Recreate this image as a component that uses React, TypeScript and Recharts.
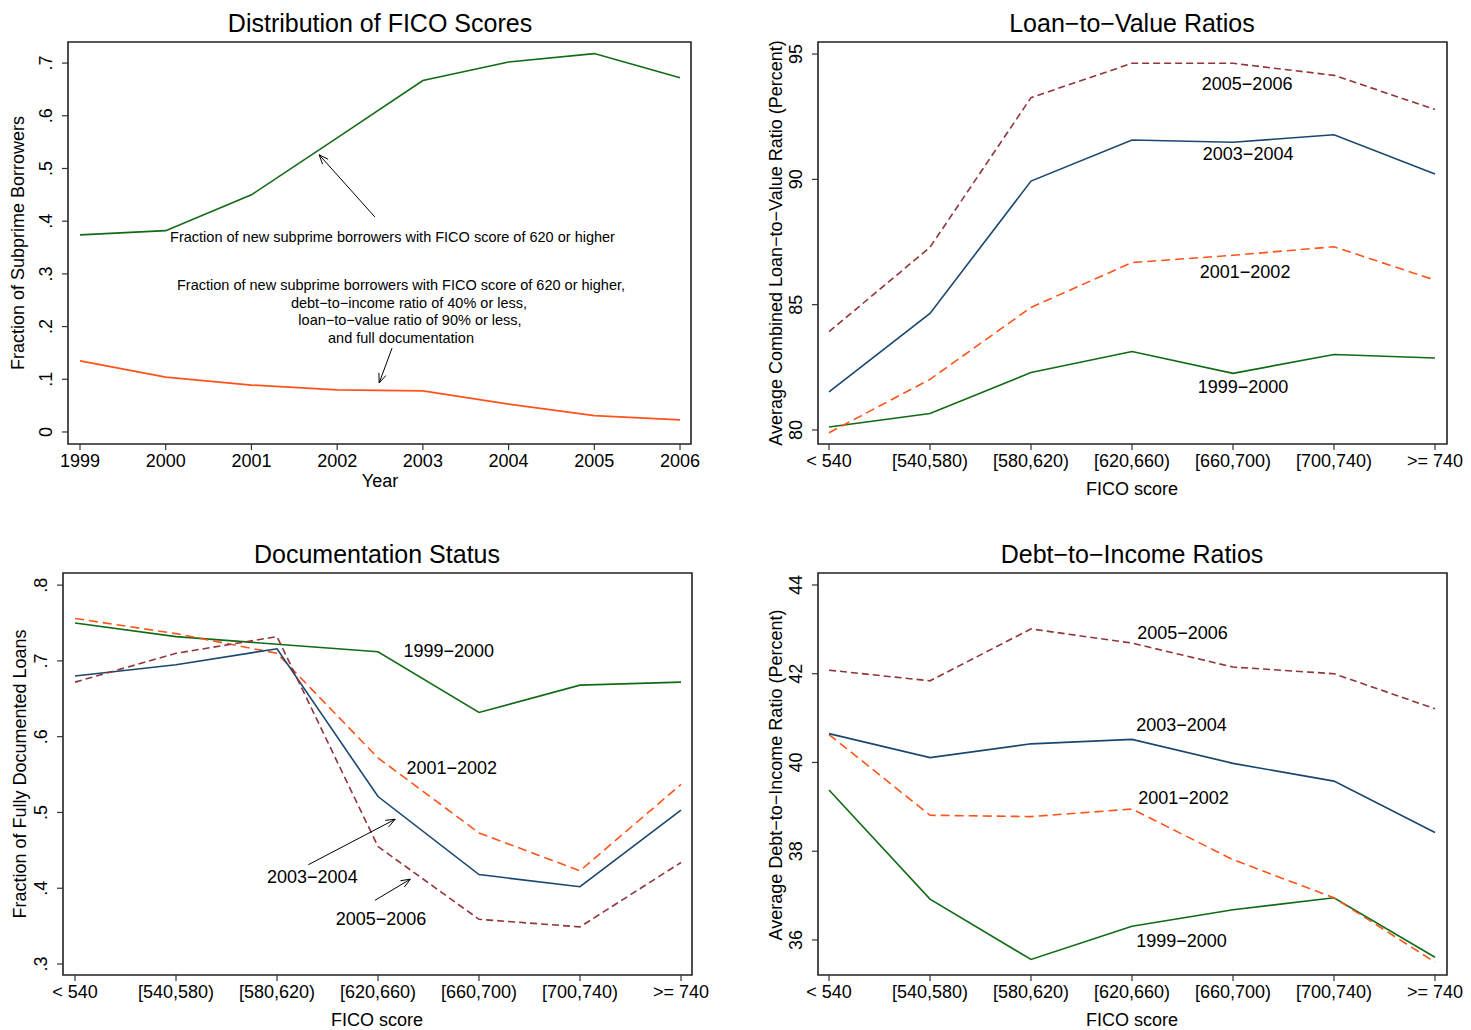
import React from "react";
import {
  LineChart,
  Line,
  XAxis,
  YAxis,
  ReferenceArea,
  ReferenceDot,
  ReferenceLine,
} from "recharts";

const FONT = '"Liberation Sans", Arial, Helvetica, sans-serif';

// panel 1: distribution of FICO scores by year
const years = [1999, 2000, 2001, 2002, 2003, 2004, 2005, 2006];
const share620 = [0.374, 0.382, 0.45, 0.558, 0.667, 0.702, 0.718, 0.672];
const shareStrict = [0.135, 0.104, 0.089, 0.08, 0.078, 0.053, 0.031, 0.023];

// panels 2-4: by FICO bucket
const ficoBuckets = ["< 540", "[540,580)", "[580,620)", "[620,660)", "[660,700)", "[700,740)", ">= 740"];

const ltv1999 = [80.12, 80.66, 82.29, 83.13, 82.26, 83.01, 82.87];
const ltv2001 = [79.89, 82.02, 84.89, 86.68, 86.97, 87.31, 85.98];
const ltv2003 = [81.52, 84.65, 89.93, 91.57, 91.48, 91.78, 90.21];
const ltv2005 = [83.92, 87.29, 93.26, 94.63, 94.63, 94.15, 92.79];

const doc1999 = [0.75, 0.732, 0.722, 0.712, 0.632, 0.668, 0.672];
const doc2001 = [0.756, 0.736, 0.71, 0.572, 0.473, 0.423, 0.537];
const doc2003 = [0.68, 0.695, 0.716, 0.521, 0.418, 0.402, 0.503];
const doc2005 = [0.672, 0.71, 0.732, 0.455, 0.359, 0.349, 0.434];

const dti1999 = [39.38, 36.92, 35.56, 36.31, 36.68, 36.95, 35.61];
const dti2001 = [40.63, 38.81, 38.78, 38.95, 37.81, 36.95, 35.5];
const dti2003 = [40.65, 40.11, 40.42, 40.52, 39.98, 39.58, 38.42];
const dti2005 = [42.08, 41.84, 43.01, 42.69, 42.15, 42.0, 41.21];

const fracTicks = [0, 0.1, 0.2, 0.3, 0.4, 0.5, 0.6, 0.7];
const ltvTicks = [80, 85, 90, 95];
const docTicks = [0.3, 0.4, 0.5, 0.6, 0.7, 0.8];
const dtiTicks = [36, 38, 40, 42, 44];
const bucketTicks = ficoBuckets.map((_, i) => i);

const GREEN = "#0f6b14";
const NAVY = "#1a476f";
const MAROON = "#903539";
const ORANGE = "#ff5319";

const X_H = 40;
const Y_W = 50;

const fmtFrac = (v: number) => (v === 0 ? "0" : v.toFixed(1).replace(/^0/, ""));
const fmtBucket = (v: number) => ficoBuckets[v] ?? "";
const fmtInt = (v: number) => String(v);

const yearRows = years.map((y, i) => ({ year: y, hi: share620[i], strict: shareStrict[i] }));
const ltvRows = ficoBuckets.map((b, i) => ({ idx: i, a: ltv1999[i], b: ltv2001[i], c: ltv2003[i], d: ltv2005[i] }));
const docRows = ficoBuckets.map((b, i) => ({ idx: i, a: doc1999[i], b: doc2001[i], c: doc2003[i], d: doc2005[i] }));
const dtiRows = ficoBuckets.map((b, i) => ({ idx: i, a: dti1999[i], b: dti2001[i], c: dti2003[i], d: dti2005[i] }));

const Arrow = (p: any) => {
  const { x1, y1, x2, y2 } = p;
  const ang = Math.atan2(y2 - y1, x2 - x1);
  const L = 10;
  const s = 0.38;
  const ax = x2 - L * Math.cos(ang - s);
  const ay = y2 - L * Math.sin(ang - s);
  const bx = x2 - L * Math.cos(ang + s);
  const by = y2 - L * Math.sin(ang + s);
  return (
    <g>
      <line x1={x1} y1={y1} x2={x2} y2={y2} stroke="#000" strokeWidth={1} />
      <polyline points={`${ax},${ay} ${x2},${y2} ${bx},${by}`} fill="none" stroke="#000" strokeWidth={1} />
    </g>
  );
};

const seriesLabel = (text: string, size = 18) => (p: any) => (
  <text
    x={p.cx}
    y={p.cy}
    textAnchor="middle"
    dominantBaseline="central"
    fontFamily={FONT}
    fontSize={size}
    fill="#000"
  >
    {text}
  </text>
);

const noteBlock = (lines: { t: string; dx: number; dy: number }[]) => (p: any) => (
  <text textAnchor="middle" dominantBaseline="central" fontFamily={FONT} fontSize={14.5} fill="#000">
    {lines.map((l, i) => (
      <tspan key={i} x={p.cx + l.dx} y={p.cy + l.dy}>
        {l.t}
      </tspan>
    ))}
  </text>
);

function Panel(props: any) {
  const { left, top, width, height, plot, title, titleAt, xTitle, xTitleAt, yTitle, yTitleAt, data, xKey, xDomain, xTicks, xFmt, yDomain, yTicks, yFmt, children } = props;
  const margin = { top: plot.t, right: width - plot.r, left: plot.l - Y_W, bottom: height - plot.b - X_H };
  const text = { position: "absolute" as const, fontFamily: FONT, color: "#000", whiteSpace: "nowrap" as const, lineHeight: 1 };
  return (
    <div style={{ position: "absolute", left, top, width, height }}>
      <LineChart width={width} height={height} data={data} margin={margin}>
        <XAxis
          dataKey={xKey}
          type="number"
          domain={xDomain}
          ticks={xTicks}
          allowDataOverflow
          interval={0}
          height={X_H}
          axisLine={false}
          tickLine={{ stroke: "#333", strokeWidth: 1.2 }}
          tickSize={6}
          tickMargin={2}
          tick={(p: any) => (
            <text x={p.x} y={plot.b + 17} textAnchor="middle" dominantBaseline="central" fontFamily={FONT} fontSize={18} fill="#000">
              {xFmt(p.payload.value)}
            </text>
          )}
        />
        <YAxis
          type="number"
          domain={yDomain}
          ticks={yTicks}
          allowDataOverflow
          interval={0}
          width={Y_W}
          axisLine={false}
          tickLine={{ stroke: "#333", strokeWidth: 1.2 }}
          tickSize={6}
          tickMargin={2}
          tick={(p: any) => {
            const cx = plot.l - 22;
            return (
              <text
                x={cx}
                y={p.y}
                transform={`rotate(-90 ${cx} ${p.y})`}
                textAnchor="middle"
                dominantBaseline="central"
                fontFamily={FONT}
                fontSize={18}
                fill="#000"
              >
                {yFmt(p.payload.value)}
              </text>
            );
          }}
        />
        <ReferenceArea
          x1={xDomain[0]}
          x2={xDomain[1]}
          y1={yDomain[0]}
          y2={yDomain[1]}
          fill="none"
          fillOpacity={0}
          stroke="#222"
          strokeWidth={1.6}
          ifOverflow="visible"
        />
        {children}
      </LineChart>
      <div style={{ ...text, left: titleAt[0], top: titleAt[1], fontSize: 25, transform: "translate(-50%, -50%)" }}>{title}</div>
      <div style={{ ...text, left: xTitleAt[0], top: xTitleAt[1], fontSize: 18, transform: "translate(-50%, -50%)" }}>{xTitle}</div>
      <div style={{ ...text, left: yTitleAt[0], top: yTitleAt[1], fontSize: 18, transform: "translate(-50%, -50%) rotate(-90deg)" }}>{yTitle}</div>
    </div>
  );
}

const lineCommon = { type: "linear" as const, dot: false, activeDot: false, isAnimationActive: false, strokeWidth: 1.6 };

export default function App() {
  return (
    <div style={{ position: "absolute", left: 0, top: 0, width: 1471, height: 1030, background: "#fff" }}>
      <Panel
        left={0}
        top={0}
        width={735}
        height={530}
        plot={{ l: 68, r: 691, t: 42, b: 444 }}
        title="Distribution of FICO Scores"
        titleAt={[380, 23]}
        xTitle="Year"
        xTitleAt={[380, 481]}
        yTitle="Fraction of Subprime Borrowers"
        yTitleAt={[18, 243]}
        data={yearRows}
        xKey="year"
        xDomain={[1998.86, 2006.128]}
        xTicks={years}
        xFmt={fmtInt}
        yDomain={[-0.0228, 0.74]}
        yTicks={fracTicks}
        yFmt={fmtFrac}
      >
        <Line {...lineCommon} dataKey="hi" stroke={GREEN} />
        <Line {...lineCommon} dataKey="strict" stroke={ORANGE} strokeWidth={1.8} />
        <ReferenceDot
          x={2002.646}
          y={0.37}
          r={0}
          ifOverflow="visible"
          shape={noteBlock([{ t: "Fraction of new subprime borrowers with FICO score of 620 or higher", dx: 0, dy: 0 }])}
        />
        <ReferenceLine segment={[{ x: 2002.44, y: 0.408 }, { x: 2001.79, y: 0.526 }]} ifOverflow="visible" shape={Arrow} />
        <ReferenceDot
          x={2002.745}
          y={0.279}
          r={0}
          ifOverflow="visible"
          shape={noteBlock([
            { t: "Fraction of new subprime borrowers with FICO score of 620 or higher,", dx: 0, dy: 0 },
            { t: "debt−to−income ratio of 40% or less,", dx: 8, dy: 18 },
            { t: "loan−to−value ratio of 90% or less,", dx: 9, dy: 35 },
            { t: "and full documentation", dx: 0, dy: 53 },
          ])}
        />
        <ReferenceLine segment={[{ x: 2002.64, y: 0.159 }, { x: 2002.49, y: 0.093 }]} ifOverflow="visible" shape={Arrow} />
      </Panel>

      <Panel
        left={735}
        top={0}
        width={736}
        height={530}
        plot={{ l: 83, r: 712, t: 42, b: 444 }}
        title="Loan−to−Value Ratios"
        titleAt={[397, 23]}
        xTitle="FICO score"
        xTitleAt={[397, 489]}
        yTitle="Average Combined Loan−to−Value Ratio (Percent)"
        yTitleAt={[41, 243]}
        data={ltvRows}
        xKey="idx"
        xDomain={[-0.109, 6.119]}
        xTicks={bucketTicks}
        xFmt={fmtBucket}
        yDomain={[79.44, 95.48]}
        yTicks={ltvTicks}
        yFmt={fmtInt}
      >
        <Line {...lineCommon} dataKey="a" stroke={GREEN} />
        <Line {...lineCommon} dataKey="b" stroke={ORANGE} strokeDasharray="9 5" />
        <Line {...lineCommon} dataKey="c" stroke={NAVY} />
        <Line {...lineCommon} dataKey="d" stroke={MAROON} strokeDasharray="7 4" />
        <ReferenceDot x={4.14} y={93.8} r={0} ifOverflow="visible" shape={seriesLabel("2005−2006")} />
        <ReferenceDot x={4.15} y={91.01} r={0} ifOverflow="visible" shape={seriesLabel("2003−2004")} />
        <ReferenceDot x={4.12} y={86.3} r={0} ifOverflow="visible" shape={seriesLabel("2001−2002")} />
        <ReferenceDot x={4.1} y={81.72} r={0} ifOverflow="visible" shape={seriesLabel("1999−2000")} />
      </Panel>

      <Panel
        left={0}
        top={530}
        width={735}
        height={500}
        plot={{ l: 63, r: 692, t: 43, b: 445 }}
        title="Documentation Status"
        titleAt={[377, 24]}
        xTitle="FICO score"
        xTitleAt={[377, 490]}
        yTitle="Fraction of Fully Documented Loans"
        yTitleAt={[20, 244]}
        data={docRows}
        xKey="idx"
        xDomain={[-0.119, 6.109]}
        xTicks={bucketTicks}
        xFmt={fmtBucket}
        yDomain={[0.2855, 0.816]}
        yTicks={docTicks}
        yFmt={fmtFrac}
      >
        <Line {...lineCommon} dataKey="a" stroke={GREEN} />
        <Line {...lineCommon} dataKey="b" stroke={ORANGE} strokeDasharray="9 5" />
        <Line {...lineCommon} dataKey="c" stroke={NAVY} />
        <Line {...lineCommon} dataKey="d" stroke={MAROON} strokeDasharray="7 4" />
        <ReferenceDot x={3.7} y={0.713} r={0} ifOverflow="visible" shape={seriesLabel("1999−2000")} />
        <ReferenceDot x={3.73} y={0.559} r={0} ifOverflow="visible" shape={seriesLabel("2001−2002")} />
        <ReferenceDot x={2.35} y={0.415} r={0} ifOverflow="visible" shape={seriesLabel("2003−2004")} />
        <ReferenceDot x={3.03} y={0.359} r={0} ifOverflow="visible" shape={seriesLabel("2005−2006")} />
        <ReferenceLine segment={[{ x: 2.31, y: 0.431 }, { x: 3.17, y: 0.491 }]} ifOverflow="visible" shape={Arrow} />
        <ReferenceLine segment={[{ x: 2.97, y: 0.384 }, { x: 3.32, y: 0.412 }]} ifOverflow="visible" shape={Arrow} />
      </Panel>

      <Panel
        left={735}
        top={530}
        width={736}
        height={500}
        plot={{ l: 83, r: 712, t: 43, b: 445 }}
        title="Debt−to−Income Ratios"
        titleAt={[397, 24]}
        xTitle="FICO score"
        xTitleAt={[397, 490]}
        yTitle="Average Debt−to−Income Ratio (Percent)"
        yTitleAt={[41, 245]}
        data={dtiRows}
        xKey="idx"
        xDomain={[-0.109, 6.119]}
        xTicks={bucketTicks}
        xFmt={fmtBucket}
        yDomain={[35.21, 44.27]}
        yTicks={dtiTicks}
        yFmt={fmtInt}
      >
        <Line {...lineCommon} dataKey="a" stroke={GREEN} />
        <Line {...lineCommon} dataKey="b" stroke={ORANGE} strokeDasharray="9 5" />
        <Line {...lineCommon} dataKey="c" stroke={NAVY} />
        <Line {...lineCommon} dataKey="d" stroke={MAROON} strokeDasharray="7 4" />
        <ReferenceDot x={3.5} y={42.91} r={0} ifOverflow="visible" shape={seriesLabel("2005−2006")} />
        <ReferenceDot x={3.49} y={40.84} r={0} ifOverflow="visible" shape={seriesLabel("2003−2004")} />
        <ReferenceDot x={3.51} y={39.2} r={0} ifOverflow="visible" shape={seriesLabel("2001−2002")} />
        <ReferenceDot x={3.49} y={35.98} r={0} ifOverflow="visible" shape={seriesLabel("1999−2000")} />
      </Panel>
    </div>
  );
}
